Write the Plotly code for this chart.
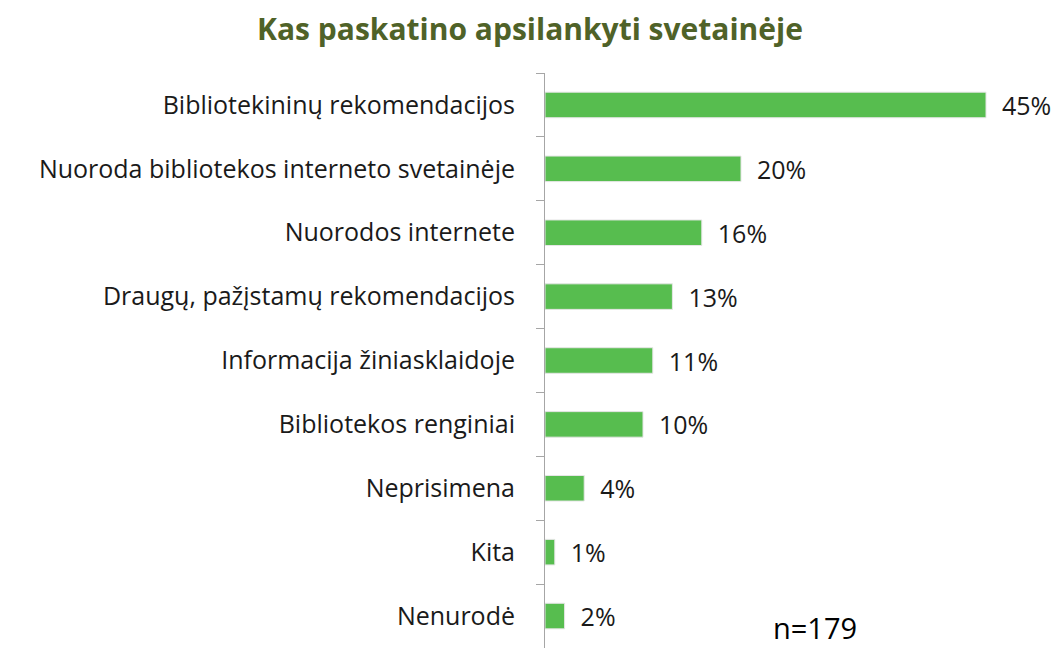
import plotly.graph_objects as go

categories = [
    "Bibliotekininų rekomendacijos",
    "Nuoroda bibliotekos interneto svetainėje",
    "Nuorodos internete",
    "Draugų, pažįstamų rekomendacijos",
    "Informacija žiniasklaidoje",
    "Bibliotekos renginiai",
    "Neprisimena",
    "Kita",
    "Nenurodė",
]
values = [45, 20, 16, 13, 11, 10, 4, 1, 2]
value_labels = ["45%", "20%", "16%", "13%", "11%", "10%", "4%", "1%", "2%"]

FONT = "Open Sans"
OFF = 8                      # default page body margin
W, H = 1061 - OFF, 648 - OFF
L, T = 545 - OFF, 73 - OFF
PW, PH = W - L, H - T

fig = go.Figure()
fig.add_trace(go.Bar(
    y=categories,
    x=values,
    orientation="h",
    width=0.4,
    marker=dict(color="#57BD4F", line=dict(color="#E6E6E6", width=1)),
    text=value_labels,
    texttemplate="  %{text}",
    textposition="outside",
    constraintext="none",
    textfont=dict(family=FONT, size=25, color="#1A1A1A"),
    cliponaxis=False,
    hoverinfo="skip",
))

fig.update_layout(
    width=W,
    height=H,
    margin=dict(l=L, r=0, t=T, b=0, autoexpand=False),
    paper_bgcolor="white",
    plot_bgcolor="white",
    showlegend=False,
    title=dict(
        text="<b>Kas paskatino apsilankyti svetainėje</b>",
        x=(530 - OFF) / W, xanchor="center", xref="container",
        y=1 - (29 - OFF) / H, yanchor="middle", yref="container",
        font=dict(family=FONT, size=30, color="#4F6228"),
    ),
    xaxis=dict(range=[0, PW / 9.8], visible=False, fixedrange=True),
    yaxis=dict(
        autorange="reversed",
        automargin=False,
        showline=True, linecolor="#A6A6A6", linewidth=1,
        ticks="outside", ticklen=8, tickcolor="#A6A6A6",
        tickson="boundaries",
        ticklabelstandoff=24,
        tickfont=dict(family=FONT, size=25, color="#1A1A1A"),
        showgrid=False,
    ),
    annotations=[dict(
        text="n=179",
        x=(815 - OFF - L) / PW, y=(H - (627 - OFF)) / PH, xref="paper", yref="paper",
        xanchor="center", yanchor="middle",
        showarrow=False, font=dict(family=FONT, size=29, color="#000000"),
    )],
)

fig.write_html("out.html")
